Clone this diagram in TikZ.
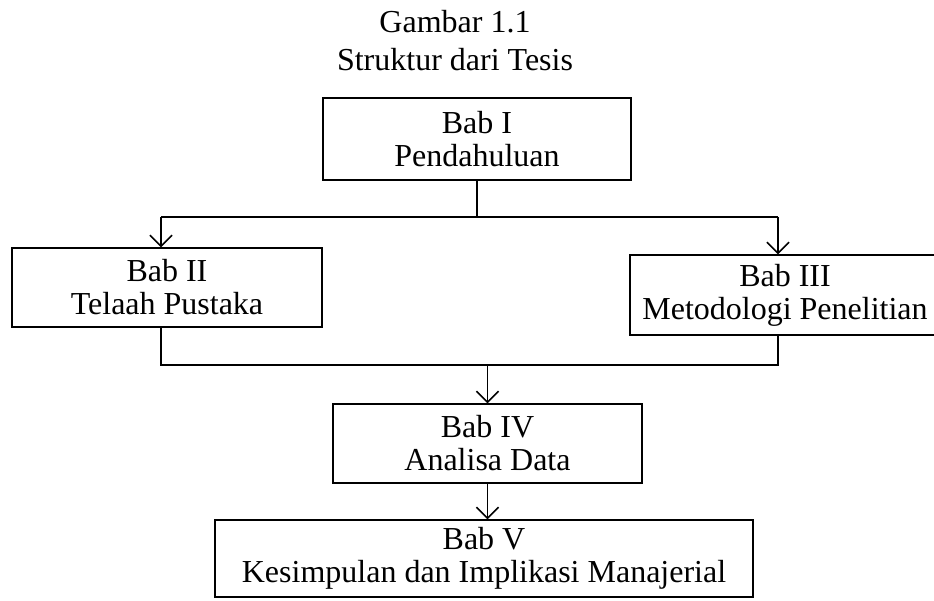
\documentclass[tikz,border=0pt]{standalone}
\usepackage{fontspec}
\setmainfont{Liberation Serif}
\usetikzlibrary{arrows.meta}
\begin{document}
\begin{tikzpicture}[x=1pt,y=-1pt,
  box/.style={draw, line width=1.4pt, align=center, inner sep=0pt, font=\fontsize{32}{33}\selectfont},
  conn/.style={line width=1.4pt},
  arr/.style={conn, -{Straight Barb[length=11pt,width=22pt,line width=1.6pt]}},
  ttl/.style={font=\fontsize{32}{33}\selectfont}]
\useasboundingbox (0,0) rectangle (934,601);
\node[ttl] (t1) at (455,22) {Gambar 1.1};
\node[ttl] (t2) at (455,60) {Struktur dari Tesis};
\node[box, minimum width=308pt, minimum height=82pt] (b1) at (477,139) {Bab I\\Pendahuluan};
\node[box, minimum width=310pt, minimum height=79pt] (b2) at (167,287.5) {Bab II\\Telaah Pustaka};
\node[box, minimum width=310pt, minimum height=80pt] (b3) at (785,295) {Bab III\\Metodologi Penelitian};
\node[box, minimum width=309pt, minimum height=79pt] (b4) at (487.5,443.5) {Bab IV\\Analisa Data};
\node[box, minimum width=538pt, minimum height=77pt] (b5) at (484,558.5) {Bab V\\Kesimpulan dan Implikasi Manajerial};
\coordinate (jL) at (161,217);
\coordinate (jR) at (778,217);
\coordinate (kL) at (161,365);
\coordinate (kR) at (778,365);
\coordinate (kM) at (487.5,365);
\draw[conn] (b1.south) -- (b1.south |- jL);
\draw[conn] (jL) -- (jR);
\draw[arr] (jL) -- (jL |- b2.north);
\draw[arr] (jR) -- (jR |- b3.north);
\draw[conn] (kL |- b2.south) -- (kL) -- (kR) -- (kR |- b3.south);
\draw[arr] (kM) -- (b4.north);
\draw[arr] (b4.south) -- (b4.south |- b5.north);
\end{tikzpicture}
\end{document}
